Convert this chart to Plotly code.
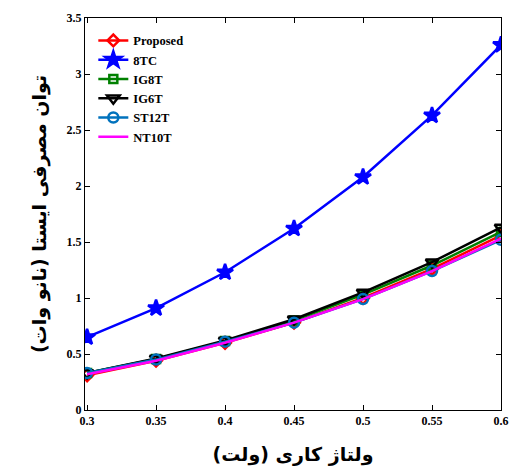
import plotly.graph_objects as go

voltage = [0.3, 0.35, 0.4, 0.45, 0.5, 0.55, 0.6]
proposed = [0.31, 0.44, 0.60, 0.78, 1.00, 1.26, 1.56]
tc8 = [0.65, 0.91, 1.23, 1.62, 2.08, 2.63, 3.26]
ig8t = [0.33, 0.455, 0.615, 0.80, 1.03, 1.29, 1.59]
ig6t = [0.33, 0.46, 0.62, 0.81, 1.05, 1.32, 1.63]
st12t = [0.33, 0.45, 0.61, 0.78, 0.99, 1.24, 1.52]
nt10t = [0.32, 0.44, 0.60, 0.78, 0.99, 1.24, 1.53]

xticks = [0.3, 0.35, 0.4, 0.45, 0.5, 0.55, 0.6]
xticklabels = ["0.3", "0.35", "0.4", "0.45", "0.5", "0.55", "0.6"]
yticks = [0, 0.5, 1, 1.5, 2, 2.5, 3, 3.5]
yticklabels = ["0", "0.5", "1", "1.5", "2", "2.5", "3", "3.5"]

fig = go.Figure()
series = [
    ("Proposed", proposed, "red", "diamond-open", 9),
    ("8TC", tc8, "blue", "star", 12),
    ("IG8T", ig8t, "green", "square-open", 8),
    ("IG6T", ig6t, "black", "triangle-down-open", 11),
    ("ST12T", st12t, "#0072BD", "circle-open", 10),
    ("NT10T", nt10t, "magenta", None, 0),
]
for name, y, color, sym, size in series:
    if sym:
        fig.add_trace(go.Scatter(
            x=voltage, y=y, name=name, mode="lines+markers",
            line=dict(color=color, width=2.5),
            marker=dict(symbol=sym, size=size, color=color,
                        line=dict(color=color, width=2.5)),
        ))
    else:
        fig.add_trace(go.Scatter(
            x=voltage, y=y, name=name, mode="lines",
            line=dict(color=color, width=2.5),
        ))

tickfont = dict(family="Liberation Serif", size=12, color="black", weight="bold")
fig.update_layout(
    width=509, height=473,
    margin=dict(l=85, r=8, t=18, b=63),
    paper_bgcolor="white", plot_bgcolor="white",
    showlegend=True,
    legend=dict(x=0.02, y=0.98, xanchor="left", yanchor="top",
                bgcolor="rgba(255,255,255,0)", tracegroupgap=0,
                font=dict(family="Liberation Serif", size=12.5, color="black", weight="bold")),
    xaxis=dict(range=[0.2985, 0.6], tickvals=xticks, ticktext=xticklabels,
               automargin=False,
               showgrid=False, zeroline=False, showline=True, linecolor="black",
               linewidth=1, mirror="allticks", ticks="inside", ticklen=5,
               tickcolor="black", tickfont=tickfont,
               title=dict(text="ولتاژ کاری (ولت)", standoff=20,
                          font=dict(family="DejaVu Sans", size=19, color="black", weight="bold"))),
    yaxis=dict(range=[0, 3.5], tickvals=yticks, ticktext=yticklabels,
               automargin=False,
               showgrid=False, zeroline=False, showline=True, linecolor="black",
               linewidth=1, mirror="allticks", ticks="inside", ticklen=5,
               tickcolor="black", tickfont=tickfont,
               title=dict(text="توان مصرفی ایستا (نانو وات)", standoff=14,
                          font=dict(family="DejaVu Sans", size=19, color="black", weight="bold"))),
)
fig.write_html("out.html")
